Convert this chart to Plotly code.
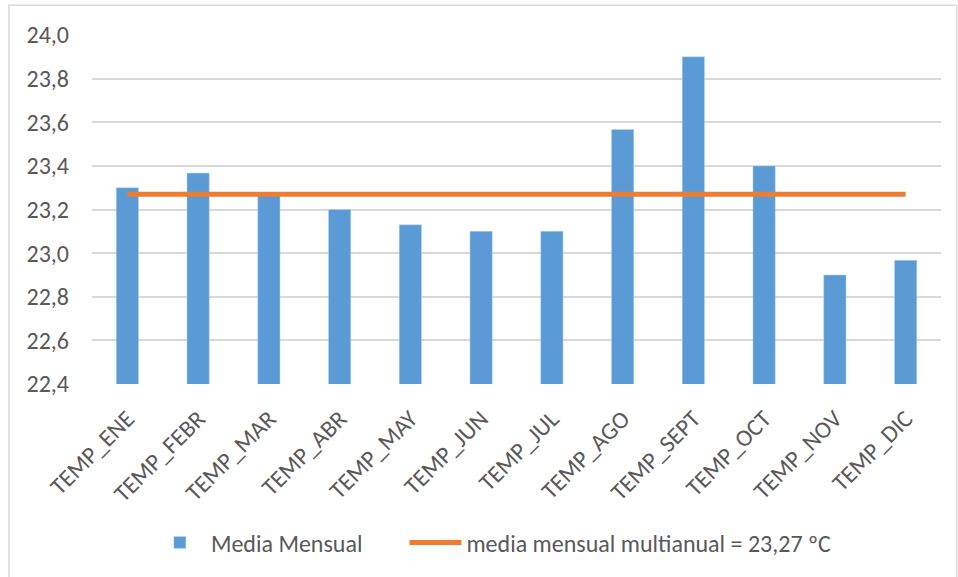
import plotly.graph_objects as go

# Données
meses = ['TEMP_ENE', 'TEMP_FEBR', 'TEMP_MAR', 'TEMP_ABR', 'TEMP_MAY', 'TEMP_JUN',
         'TEMP_JUL', 'TEMP_AGO', 'TEMP_SEPT', 'TEMP_OCT', 'TEMP_NOV', 'TEMP_DIC']
media_mensual = [23.30, 23.367, 23.27, 23.20, 23.13, 23.10,
                 23.10, 23.567, 23.90, 23.40, 22.90, 22.967]
media_multianual = [23.27] * 12

FONT = 'Calibri, Carlito, Lato, sans-serif'
GRIS = '#595959'

barras = go.Bar(name='Media Mensual', x=meses, y=media_mensual,
                marker=dict(color='#5B9BD5', line=dict(color='#BDD7EE', width=0.5)),
                width=0.315, legend='legend')
linea = go.Scatter(name='media mensual multianual = 23,27 ºC', x=meses, y=media_multianual,
                   mode='lines', line=dict(color='#ED7D31', width=5), legend='legend2')

fig = go.Figure(data=[barras, linea])
leyenda = dict(orientation='h', xanchor='left', y=-0.455, yanchor='middle',
               font=dict(size=24, color=GRIS), itemwidth=52, bgcolor='rgba(0,0,0,0)')
fig.update_layout(
    width=958, height=577,
    margin=dict(l=92, r=17, t=35, b=193, autoexpand=False),
    paper_bgcolor='white', plot_bgcolor='white',
    font=dict(family=FONT, color=GRIS, size=24),
    showlegend=True,
    legend=dict(leyenda, x=0.067),
    legend2=dict(leyenda, x=0.368),
    separators=',.',
)
fig.update_yaxes(range=[22.4, 24.0], dtick=0.2, tickformat='.1f', automargin=False,
                 showgrid=True, gridcolor='#D9D9D9', gridwidth=1.5,
                 zeroline=False, showline=False, ticks='', ticklabelstandoff=22,
                 tickfont=dict(size=24, color=GRIS))
fig.update_xaxes(tickangle=-45, showgrid=False, showline=False, ticks='', automargin=False,
                 ticklabelstandoff=15, tickfont=dict(size=24, color=GRIS))

# Cadre extérieur du graphique
fig.add_shape(type='rect', xref='paper', yref='paper',
              x0=-0.0978, x1=1.0185, y0=-0.6, y1=1.085,
              line=dict(color='#D9D9D9', width=1.5), fillcolor='rgba(0,0,0,0)', layer='below')

# la page ajoute une marge de 8 px autour du graphique : on la retire
fig.write_html('out.html', config={'displayModeBar': False},
               post_script="document.body.style.margin='0';")
